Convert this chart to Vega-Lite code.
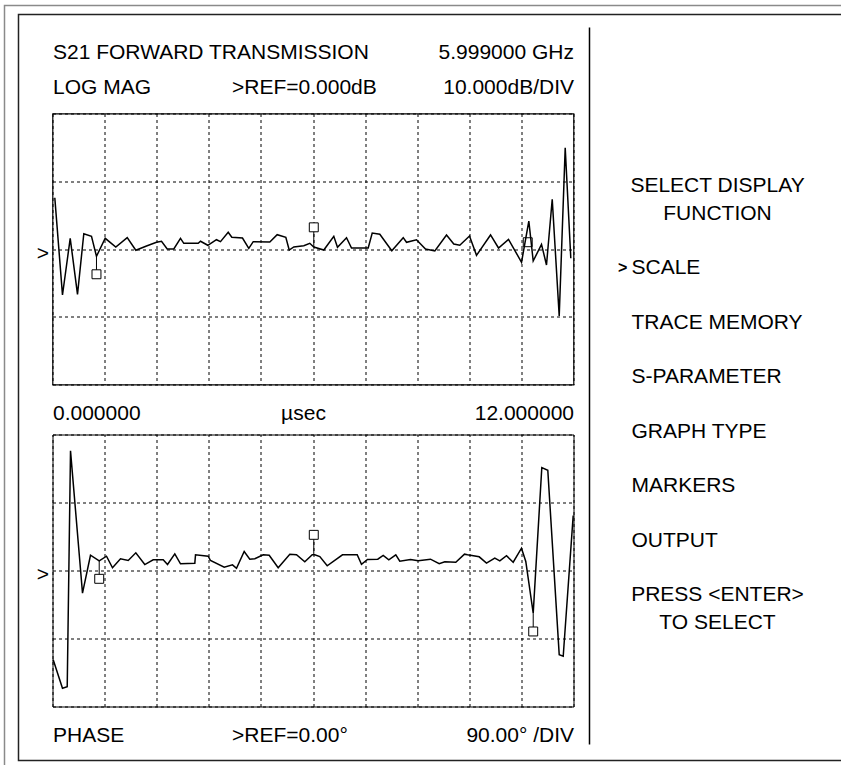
{
  "$schema": "https://vega.github.io/schema/vega-lite/v6.json",
  "background": "white",
  "padding": {"left": 2.5, "top": 3.5, "right": 0, "bottom": 0},
  "bounds": "flush",
  "spacing": 50,
  "config": {
    "view": {"stroke": "#000", "strokeWidth": 1},
    "font": "Liberation Sans",
    "axis": {"labelFont": "Liberation Sans", "labelFontSize": 21, "labelColor": "#000", "labelLimit": 0, "domain": false, "ticks": false, "tickSize": 0, "gridColor": "#000", "gridDash": [3, 3], "gridWidth": 1, "gridOpacity": 1, "labelOverlap": false, "labelBound": false},
    "text": {"font": "Liberation Sans", "fontSize": 21, "color": "#000"}
  },
  "datasets": {
    "s21_logmag": [
      {"t":0.053,"db":7.57},{"t":0.230,"db":-6.79},{"t":0.408,"db":1.58},{"t":0.576,"db":-6.69},{"t":0.721,"db":2.26},{"t":0.898,"db":1.87},{"t":1.013,"db":-1.08},{"t":1.214,"db":1.58},{"t":1.458,"db":0.30},{"t":1.721,"db":1.67},{"t":1.919,"db":-0.19},{"t":2.165,"db":0.44},{"t":2.395,"db":0.99},{"t":2.511,"db":1.14},{"t":2.642,"db":0.0},{"t":2.794,"db":0.0},{"t":2.948,"db":1.58},{"t":3.024,"db":0.84},{"t":3.356,"db":0.84},{"t":3.409,"db":1.14},{"t":3.577,"db":0.55},{"t":3.777,"db":1.37},{"t":3.869,"db":1.08},{"t":4.047,"db":2.46},{"t":4.130,"db":1.73},{"t":4.376,"db":1.62},{"t":4.521,"db":0.10},{"t":4.623,"db":1.08},{"t":5.005,"db":1.03},{"t":5.175,"db":2.11},{"t":5.374,"db":1.73},{"t":5.452,"db":-0.15},{"t":5.558,"db":0.30},{"t":5.788,"db":0.49},{"t":5.926,"db":0.84},{"t":6.018,"db":0.30},{"t":6.249,"db":-0.15},{"t":6.479,"db":1.87},{"t":6.564,"db":0.25},{"t":6.772,"db":1.67},{"t":6.887,"db":0.15},{"t":7.271,"db":0.15},{"t":7.364,"db":2.36},{"t":7.539,"db":2.17},{"t":7.815,"db":-0.25},{"t":8.078,"db":1.67},{"t":8.154,"db":0.99},{"t":8.384,"db":1.37},{"t":8.591,"db":0.0},{"t":8.806,"db":-0.30},{"t":9.075,"db":2.07},{"t":9.243,"db":0.74},{"t":9.381,"db":0.55},{"t":9.605,"db":1.92},{"t":9.766,"db":-0.93},{"t":10.089,"db":2.07},{"t":10.273,"db":0.15},{"t":10.503,"db":1.43},{"t":10.803,"db":-1.96},{"t":10.971,"db":4.13},{"t":11.072,"db":-1.77},{"t":11.263,"db":0.69},{"t":11.378,"db":-2.36},{"t":11.510,"db":7.34},{"t":11.671,"db":-9.89},{"t":11.809,"db":14.95},{"t":11.938,"db":-1.37}
    ],
    "s21_logmag_markers": [
      {"marker":1,"t":1.013,"db":-1.08,"box":-3.73},
      {"marker":2,"t":6.018,"db":0.30,"box":3.20},
      {"marker":3,"t":10.946,"db":1.0,"box":1.0}
    ],
    "s21_phase": [
      {"t":0.016,"deg":-118.2},{"t":0.230,"deg":-155.8},{"t":0.339,"deg":-153.9},{"t":0.415,"deg":158.4},{"t":0.691,"deg":-30.0},{"t":0.875,"deg":20.2},{"t":1.076,"deg":12.8},{"t":1.244,"deg":18.9},{"t":1.382,"deg":3.6},{"t":1.566,"deg":15.5},{"t":1.744,"deg":13.2},{"t":1.919,"deg":23.4},{"t":2.126,"deg":7.9},{"t":2.319,"deg":14.2},{"t":2.550,"deg":14.2},{"t":2.649,"deg":7.9},{"t":2.817,"deg":22.1},{"t":2.948,"deg":8.9},{"t":3.278,"deg":9.7},{"t":3.294,"deg":20.8},{"t":3.586,"deg":18.9},{"t":3.639,"deg":13.2},{"t":3.955,"deg":4.4},{"t":4.146,"deg":7.5},{"t":4.238,"deg":3.0},{"t":4.415,"deg":25.1},{"t":4.544,"deg":15.0},{"t":4.660,"deg":15.5},{"t":4.853,"deg":20.8},{"t":4.991,"deg":20.2},{"t":5.198,"deg":3.6},{"t":5.466,"deg":21.6},{"t":5.620,"deg":20.8},{"t":5.811,"deg":11.5},{"t":5.982,"deg":20.8},{"t":6.041,"deg":20.8},{"t":6.157,"deg":18.5},{"t":6.327,"deg":6.2},{"t":6.679,"deg":20.8},{"t":7.018,"deg":20.8},{"t":7.117,"deg":8.3},{"t":7.255,"deg":14.6},{"t":7.492,"deg":15.0},{"t":7.617,"deg":19.9},{"t":7.746,"deg":14.2},{"t":7.907,"deg":20.8},{"t":7.999,"deg":12.3},{"t":8.246,"deg":14.6},{"t":8.423,"deg":12.8},{"t":8.706,"deg":15.0},{"t":8.907,"deg":8.9},{"t":9.036,"deg":11.5},{"t":9.289,"deg":11.0},{"t":9.489,"deg":21.6},{"t":9.558,"deg":20.8},{"t":9.828,"deg":18.1},{"t":9.996,"deg":9.7},{"t":10.187,"deg":16.3},{"t":10.303,"deg":12.8},{"t":10.457,"deg":19.5},{"t":10.611,"deg":11.0},{"t":10.802,"deg":29.5},{"t":10.901,"deg":11.9},{"t":11.072,"deg":-56.5},{"t":11.270,"deg":136.3},{"t":11.408,"deg":132.7},{"t":11.671,"deg":-111.6},{"t":11.763,"deg":-113.4},{"t":11.993,"deg":72.8}
    ],
    "s21_phase_markers": [
      {"marker":1,"t":1.076,"deg":12.8,"box":-11.0},
      {"marker":2,"t":6.018,"deg":20.8,"box":47.2},
      {"marker":3,"t":11.072,"deg":-56.5,"box":-80.7}
    ],
    "menu": [
      {"text":"SELECT DISPLAY","row":0,"role":"title","selected":false},
      {"text":"FUNCTION","row":1,"role":"title","selected":false},
      {"text":"SCALE","row":3,"role":"item","selected":true},
      {"text":"TRACE MEMORY","row":5,"role":"item","selected":false},
      {"text":"S-PARAMETER","row":7,"role":"item","selected":false},
      {"text":"GRAPH TYPE","row":9,"role":"item","selected":false},
      {"text":"MARKERS","row":11,"role":"item","selected":false},
      {"text":"OUTPUT","row":13,"role":"item","selected":false},
      {"text":"PRESS <ENTER>","row":15,"role":"title","selected":false},
      {"text":"TO SELECT","row":16,"role":"title","selected":false}
    ]
  },
  "vconcat": [
    {
      "width": 521,
      "height": 271,
      "view": {"stroke": "#000", "strokeWidth": 1.2},
      "resolve": {"scale": {"x": "independent", "y": "independent"}, "axis": {"x": "independent", "y": "independent"}},
      "layer": [
        {
          "data": {"name": "s21_logmag_markers"},
          "mark": {"type": "rule", "color": "#000", "strokeWidth": 1},
          "encoding": {
            "x": {"field": "t", "type": "quantitative", "scale": {"domain": [0, 12], "nice": false, "zero": false}, "axis": null},
            "y": {"field": "db", "type": "quantitative", "scale": {"domain": [-20, 20], "nice": false, "zero": false}, "axis": null},
            "y2": {"field": "box"}
          }
        },
        {
          "data": {"name": "s21_logmag_markers"},
          "mark": {"type": "square", "size": 80, "filled": true, "fill": "white", "stroke": "#000", "strokeWidth": 1, "opacity": 1},
          "encoding": {
            "x": {"field": "t", "type": "quantitative", "scale": {"domain": [0, 12], "nice": false, "zero": false},
              "axis": {"orient": "top", "values": [0, 4.123, 12], "grid": false, "title": null,
                "labelExpr": "datum.value == 0 ? ['S21 FORWARD TRANSMISSION', 'LOG MAG'] : datum.value == 12 ? ['5.999000 GHz', '10.000dB/DIV'] : ['', '>REF=0.000dB']",
                "labelAlign": {"condition": {"test": "datum.value >= 12", "value": "right"}, "value": "left"},
                "labelPadding": 51, "labelLineHeight": 35}},
            "y": {"field": "box", "type": "quantitative", "scale": {"domain": [-20, 20], "nice": false, "zero": false}, "axis": null}
          }
        },
        {
          "data": {"name": "s21_logmag"},
          "mark": {"type": "line", "color": "#000", "strokeWidth": 1.5},
          "encoding": {
            "x": {"field": "t", "type": "quantitative", "scale": {"domain": [0, 12], "nice": false, "zero": false},
              "axis": {"orient": "bottom", "values": [0, 1.2, 2.4, 3.6, 4.8, 5.77, 6, 7.2, 8.4, 9.6, 10.8, 12], "grid": true, "title": null,
                "gridOpacity": {"condition": {"test": "datum.value == 5.77", "value": 0}, "value": 1},
                "labelExpr": "datum.value == 0 ? '0.000000' : datum.value == 5.77 ? 'µsec' : datum.value == 12 ? '12.000000' : ''",
                "labelFlush": true, "labelPadding": 18}},
            "y": {"field": "db", "type": "quantitative", "scale": {"domain": [-20, 20], "nice": false, "zero": false},
              "axis": {"orient": "left", "values": [-20, -10, 0, 10, 20], "grid": true, "title": null,
                "labelExpr": "datum.value == 0 ? '>' : ''", "labelPadding": 4, "labelOffset": 4}}
          }
        },
        {
          "data": {"name": "menu"},
          "layer": [
            {
              "data": {"values": [{}]},
              "mark": {"type": "rect", "filled": false, "stroke": "#8a8a8a", "strokeWidth": 1.5},
              "encoding": {
                "x": {"datum": -2.31225, "type": "quantitative", "scale": {"domain": [-2.12253, -0.06324], "nice": false, "zero": false}, "axis": null},
                "x2": {"datum": 1.03557},
                "y": {"datum": -6.6337, "type": "quantitative", "scale": {"domain": [-2.6733, 7.2644], "reverse": true, "nice": false, "zero": false}, "axis": null},
                "y2": {"datum": 21.4558}
              }
            },
            {
              "data": {"values": [{}]},
              "mark": {"type": "rect", "filled": false, "stroke": "#222", "strokeWidth": 1.5},
              "encoding": {
                "x": {"datum": -2.25692, "type": "quantitative", "scale": {"domain": [-2.12253, -0.06324], "nice": false, "zero": false}, "axis": null},
                "x2": {"datum": 1.03557},
                "y": {"datum": -6.3036, "type": "quantitative", "scale": {"domain": [-2.6733, 7.2644], "reverse": true, "nice": false, "zero": false}, "axis": null},
                "y2": {"datum": 21.0524}
              }
            },
            {
              "data": {"values": [{}]},
              "mark": {"type": "rule", "color": "#000", "strokeWidth": 1.5},
              "encoding": {
                "x": {"datum": 0, "type": "quantitative", "scale": {"domain": [-2.12253, -0.06324], "nice": false, "zero": false}, "axis": null},
                "y": {"datum": -5.8269, "type": "quantitative", "scale": {"domain": [-2.6733, 7.2644], "reverse": true, "nice": false, "zero": false}, "axis": null},
                "y2": {"datum": 20.4657}
              }
            },
            {
              "transform": [{"filter": "datum.role == 'title'"}],
              "mark": {"type": "text", "align": "center", "baseline": "middle", "fontSize": 21, "font": "Liberation Sans", "color": "#000"},
              "encoding": {
                "x": {"datum": 0.506, "type": "quantitative", "scale": {"domain": [-2.12253, -0.06324], "nice": false, "zero": false}, "axis": null},
                "y": {"field": "row", "type": "quantitative", "scale": {"domain": [-2.6733, 7.2644], "reverse": true, "nice": false, "zero": false}, "axis": null},
                "text": {"field": "text"}
              }
            },
            {
              "transform": [{"filter": "datum.role == 'item'"}],
              "mark": {"type": "text", "align": "left", "baseline": "middle", "fontSize": 21, "font": "Liberation Sans", "color": "#000"},
              "encoding": {
                "x": {"datum": 0.166, "type": "quantitative", "scale": {"domain": [-2.12253, -0.06324], "nice": false, "zero": false}, "axis": null},
                "y": {"field": "row", "type": "quantitative", "scale": {"domain": [-2.6733, 7.2644], "reverse": true, "nice": false, "zero": false}, "axis": null},
                "text": {"field": "text"}
              }
            },
            {
              "transform": [{"filter": "datum.selected"}],
              "mark": {"type": "text", "align": "right", "baseline": "middle", "fontSize": 16, "fontWeight": "bold", "font": "Liberation Sans", "color": "#000", "text": ">"},
              "encoding": {
                "x": {"datum": 0.150, "type": "quantitative", "scale": {"domain": [-2.12253, -0.06324], "nice": false, "zero": false}, "axis": null},
                "y": {"field": "row", "type": "quantitative", "scale": {"domain": [-2.6733, 7.2644], "reverse": true, "nice": false, "zero": false}, "axis": null}
              }
            }
          ]
        }
      ]
    },
    {
      "width": 521,
      "height": 272,
      "view": {"stroke": "#000", "strokeWidth": 1},
      "resolve": {"axis": {"x": "independent"}},
      "layer": [
        {
          "data": {"name": "s21_phase_markers"},
          "mark": {"type": "rule", "color": "#000", "strokeWidth": 1},
          "encoding": {
            "x": {"field": "t", "type": "quantitative", "scale": {"domain": [0, 12], "nice": false, "zero": false}, "axis": null},
            "y": {"field": "deg", "type": "quantitative", "scale": {"domain": [-180, 180], "nice": false, "zero": false}},
            "y2": {"field": "box"}
          }
        },
        {
          "data": {"name": "s21_phase_markers"},
          "mark": {"type": "square", "size": 80, "filled": true, "fill": "white", "stroke": "#000", "strokeWidth": 1, "opacity": 1},
          "encoding": {
            "x": {"field": "t", "type": "quantitative", "scale": {"domain": [0, 12], "nice": false, "zero": false},
              "axis": {"orient": "top", "values": [0, 1.2, 2.4, 3.6, 4.8, 6, 7.2, 8.4, 9.6, 10.8, 12], "grid": true, "labels": false, "title": null}},
            "y": {"field": "box", "type": "quantitative"}
          }
        },
        {
          "data": {"name": "s21_phase"},
          "mark": {"type": "line", "color": "#000", "strokeWidth": 1.5},
          "encoding": {
            "x": {"field": "t", "type": "quantitative", "scale": {"domain": [0, 12], "nice": false, "zero": false},
              "axis": {"orient": "bottom", "values": [0, 4.123, 12], "grid": false, "title": null,
                "labelExpr": "datum.value == 0 ? 'PHASE' : datum.value == 12 ? '90.00° /DIV' : '>REF=0.00°'",
                "labelAlign": {"condition": {"test": "datum.value >= 12", "value": "right"}, "value": "left"},
                "labelPadding": 18}},
            "y": {"field": "deg", "type": "quantitative", "scale": {"domain": [-180, 180], "nice": false, "zero": false},
              "axis": {"orient": "left", "values": [-180, -90, 0, 90, 180], "grid": true, "title": null,
                "labelExpr": "datum.value == 0 ? '>' : ''", "labelPadding": 4, "labelOffset": 4}}
          }
        }
      ]
    }
  ]
}
